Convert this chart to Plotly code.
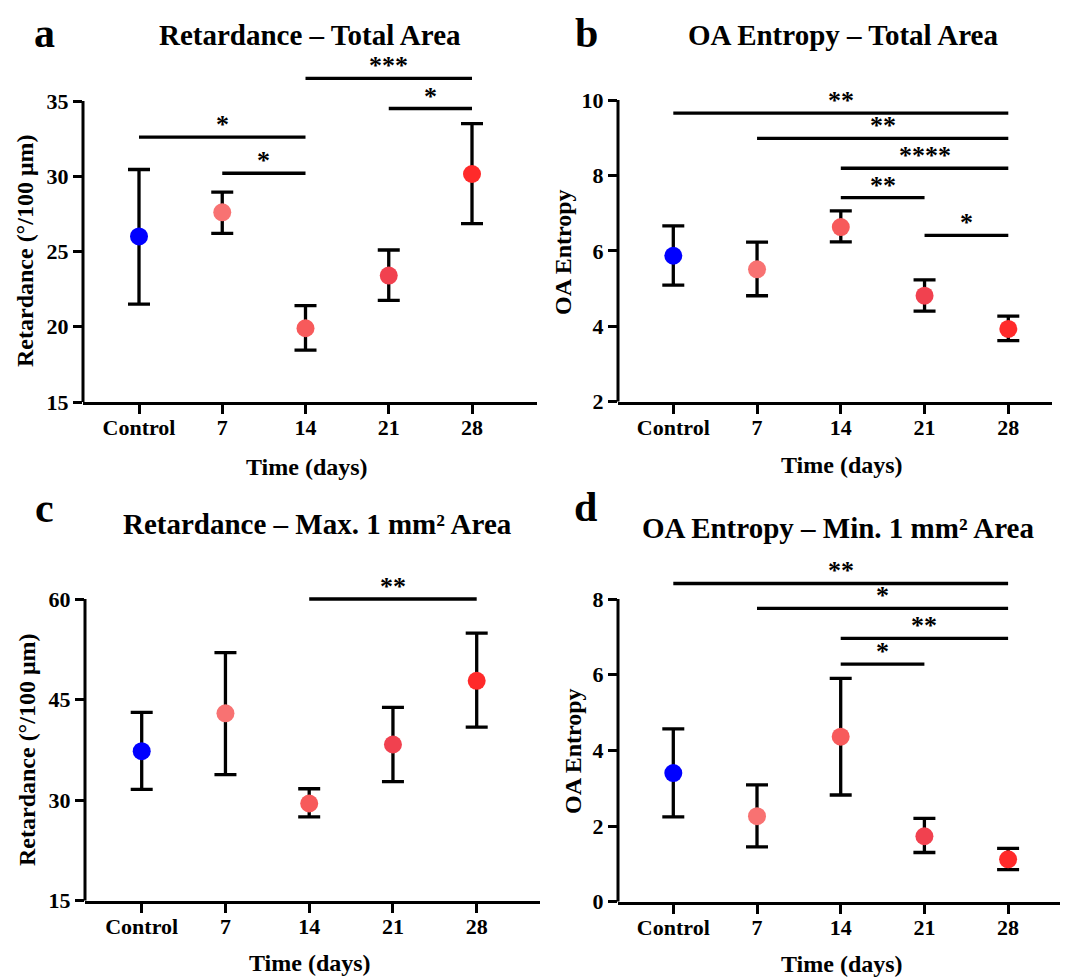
import plotly.graph_objects as go

# page body has an 8px margin: the figure is laid out in reference pixels shifted by it
OFF = 8
W, H = 1062, 970
FONT = "Liberation Serif, Times New Roman, serif"

# ---------------- data ----------------
categories = ["Control", "7", "14", "21", "28"]
point_colors = ["#0000ff", "#f87272", "#f75a5b", "#f1414f", "#ff2a2a"]

# a: Retardance - Total Area
ret_total_mean = [26.0, 27.6, 19.9, 23.4, 30.15]
ret_total_hi = [30.45, 28.95, 21.4, 25.1, 33.5]
ret_total_lo = [21.5, 26.2, 18.45, 21.75, 26.85]
ret_total_sig_from = ["Control", "7", "14", "21"]
ret_total_sig_to = ["14", "14", "28", "28"]
ret_total_sig_y = [32.6, 30.2, 36.5, 34.5]
ret_total_sig_lab = ["*", "*", "***", "*"]

# b: OA Entropy - Total Area
oa_total_mean = [5.87, 5.51, 6.63, 4.81, 3.93]
oa_total_hi = [6.66, 6.23, 7.06, 5.23, 4.27]
oa_total_lo = [5.09, 4.81, 6.24, 4.40, 3.62]
oa_total_sig_from = ["Control", "7", "14", "14", "21"]
oa_total_sig_to = ["28", "28", "28", "21", "28"]
oa_total_sig_y = [9.65, 8.98, 8.19, 7.41, 6.41]
oa_total_sig_lab = ["**", "**", "****", "**", "*"]

# c: Retardance - Max. 1 mm2 Area
ret_max_mean = [37.3, 42.95, 29.5, 38.3, 47.8]
ret_max_hi = [43.1, 52.0, 31.7, 43.85, 54.9]
ret_max_lo = [31.6, 33.8, 27.5, 32.75, 40.9]
ret_max_sig_from = ["14"]
ret_max_sig_to = ["28"]
ret_max_sig_y = [60.0]
ret_max_sig_lab = ["**"]

# d: OA Entropy - Min. 1 mm2 Area
oa_min_mean = [3.40, 2.26, 4.36, 1.73, 1.12]
oa_min_hi = [4.57, 3.09, 5.90, 2.20, 1.41]
oa_min_lo = [2.24, 1.45, 2.82, 1.30, 0.85]
oa_min_sig_from = ["Control", "7", "14", "14"]
oa_min_sig_to = ["28", "28", "28", "21"]
oa_min_sig_y = [8.41, 7.75, 6.96, 6.28]
oa_min_sig_lab = ["**", "*", "**", "*"]

panel_letters = ["a", "b", "c", "d"]
panel_titles = [
    "Retardance – Total Area",
    "OA Entropy – Total Area",
    "Retardance – Max. 1 mm² Area",
    "OA Entropy – Min. 1 mm² Area",
]
x_title = "Time (days)"
y_titles = ["Retardance (°/100 μm)", "OA Entropy", "Retardance (°/100 μm)", "OA Entropy"]
y_tickvals = [[15, 20, 25, 30, 35], [2, 4, 6, 8, 10], [15, 30, 45, 60], [0, 2, 4, 6, 8]]

series = [
    (ret_total_mean, ret_total_hi, ret_total_lo,
     ret_total_sig_from, ret_total_sig_to, ret_total_sig_y, ret_total_sig_lab),
    (oa_total_mean, oa_total_hi, oa_total_lo,
     oa_total_sig_from, oa_total_sig_to, oa_total_sig_y, oa_total_sig_lab),
    (ret_max_mean, ret_max_hi, ret_max_lo,
     ret_max_sig_from, ret_max_sig_to, ret_max_sig_y, ret_max_sig_lab),
    (oa_min_mean, oa_min_hi, oa_min_lo,
     oa_min_sig_from, oa_min_sig_to, oa_min_sig_y, oa_min_sig_lab),
]

# ---------------- layout geometry (reference pixels) ----------------
geom = [
    dict(xl=83, xr=537, c0=139, step=83.25, yb=402, yt=101, ytop=68),
    dict(xl=618, xr=1052, c0=673.3, step=83.75, yb=401.7, yt=100, ytop=92),
    dict(xl=85, xr=540, c0=141.7, step=83.75, yb=900.7, yt=599, ytop=586),
    dict(xl=618, xr=1060, c0=673.3, step=83.7, yb=901.7, yt=599, ytop=573),
]
# (x centre, y, anchor)
letter_pos = [(44, 8, "top"), (586, 8, "top"), (44, 508, "middle"), (585, 507, "middle")]
title_pos = [(310, 35), (843, 35), (317, 523.5), (838, 527.5)]
xtitle_pos = [(307, 467), (842, 465), (310, 962.6), (842, 963.6)]
ytitle_pos = [(25, 251), (563, 252), (27, 750), (573, 751)]


def px(x):
    return (x - OFF) / W


def py(y):
    return 1 - (y - OFF) / H


fig = go.Figure()
shapes = []
annotations = []
idx = {c: i for i, c in enumerate(categories)}
xpos = [idx[c] for c in categories]

for k, (mean, hi, lo, sf, st, sy, sl) in enumerate(series):
    g = geom[k]
    sfx = "" if k == 0 else str(k + 1)
    xa, ya = "x" + sfx, "y" + sfx
    tv = y_tickvals[k]
    ymin, ymax = tv[0], tv[-1]
    upp = (ymax - ymin) / (g["yb"] - g["yt"])
    ytop_val = ymax + (g["yt"] - g["ytop"]) * upp
    xr0 = (g["xl"] - g["c0"]) / g["step"]
    xr1 = (g["xr"] - g["c0"]) / g["step"]

    fig.add_trace(go.Scatter(
        x=xpos, y=mean, mode="markers", xaxis=xa, yaxis=ya,
        marker=dict(size=18, color=point_colors, line=dict(width=0)),
        error_y=dict(type="data", symmetric=False,
                     array=[h - m for h, m in zip(hi, mean)],
                     arrayminus=[m - l for m, l in zip(mean, lo)],
                     color="black", thickness=3.3, width=11),
        showlegend=False, hoverinfo="skip",
    ))

    axfont = dict(family=FONT, size=22, color="black", weight="bold")
    fig.layout["xaxis" + sfx] = dict(
        domain=[px(g["xl"]), px(g["xr"])], anchor=ya, range=[xr0, xr1],
        tickmode="array", tickvals=xpos, ticktext=categories,
        showline=True, linewidth=3, linecolor="black",
        ticks="outside", ticklen=9, tickwidth=3, tickcolor="black",
        ticklabelstandoff=-5,
        tickfont=axfont, showgrid=False, zeroline=False, automargin=False,
        fixedrange=True,
    )
    fig.layout["yaxis" + sfx] = dict(
        domain=[py(g["yb"]), py(g["ytop"])], anchor=xa, range=[ymin, ytop_val],
        tickmode="array", tickvals=tv,
        showline=False, ticks="outside", ticklen=9, tickwidth=3, tickcolor="black",
        tickfont=axfont, showgrid=False, zeroline=False, automargin=False,
        fixedrange=True,
    )
    # visible y-axis line (only up to the top tick)
    shapes.append(dict(type="line", xref=xa + " domain", yref=ya,
                       x0=0, x1=0, y0=ymin, y1=ymax,
                       line=dict(color="black", width=3)))
    # significance bars and stars
    for a, b, yv, lab in zip(sf, st, sy, sl):
        shapes.append(dict(type="line", xref=xa, yref=ya,
                           x0=idx[a], x1=idx[b], y0=yv, y1=yv,
                           line=dict(color="black", width=3.3)))
        annotations.append(dict(x=(idx[a] + idx[b]) / 2, y=yv, xref=xa, yref=ya,
                                text=lab, showarrow=False, yanchor="middle",
                                xanchor="center", yshift=12.5,
                                font=dict(family=FONT, size=26, color="black",
                                          weight="bold")))

    lx, ly, lanchor = letter_pos[k]
    annotations.append(dict(x=px(lx), y=py(ly), xref="paper", yref="paper",
                            text=panel_letters[k], showarrow=False,
                            xanchor="center", yanchor=lanchor,
                            font=dict(family=FONT, size=42, color="black", weight="bold")))
    tx, ty = title_pos[k]
    annotations.append(dict(x=px(tx), y=py(ty), xref="paper", yref="paper",
                            text=panel_titles[k], showarrow=False,
                            xanchor="center", yanchor="middle",
                            font=dict(family=FONT, size=29, color="black", weight="bold")))
    xx, xy = xtitle_pos[k]
    annotations.append(dict(x=px(xx), y=py(xy), xref="paper", yref="paper",
                            text=x_title, showarrow=False,
                            xanchor="center", yanchor="middle",
                            font=dict(family=FONT, size=24, color="black", weight="bold")))
    yx, yy = ytitle_pos[k]
    annotations.append(dict(x=px(yx), y=py(yy), xref="paper", yref="paper",
                            text=y_titles[k], showarrow=False, textangle=-90,
                            xanchor="center", yanchor="middle",
                            font=dict(family=FONT, size=24, color="black", weight="bold")))

fig.update_layout(
    width=W, height=H,
    margin=dict(l=0, r=0, t=0, b=0),
    paper_bgcolor="white", plot_bgcolor="white",
    shapes=shapes, annotations=annotations,
    showlegend=False,
)

fig.write_html("out.html")
